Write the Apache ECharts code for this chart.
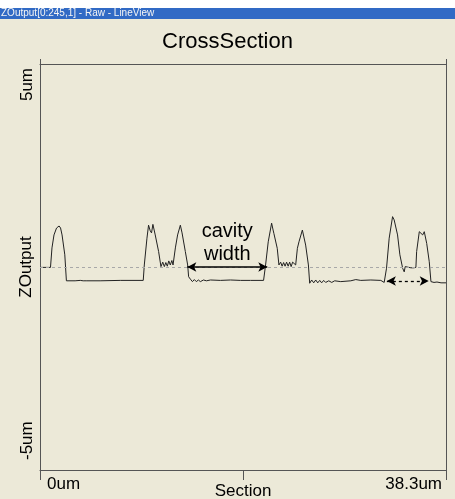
<!DOCTYPE html>
<html>
<head>
<meta charset="utf-8">
<script src="https://cdn.jsdelivr.net/npm/echarts@6/dist/echarts.min.js"></script>
<style>
  html, body { margin: 0; padding: 0; background: #ffffff; }
  #chart { width: 455px; height: 499px; }
</style>
</head>
<body>
<div id="chart"></div>
<script>
// Cross-section profile: position along the section (um) and height ZOutput (um)
const sectionUm = [
  0, 0.99, 1.13, 1.32, 1.56, 1.80, 1.94, 2.08, 2.34, 2.49,
  2.65, 3.31, 3.80, 3.92, 4.07, 4.21, 4.35, 5.67, 7.57, 9.74,
  9.84, 10.09, 10.24, 10.40, 10.52, 10.65, 10.87, 11.19, 11.41, 11.58,
  11.73, 11.87, 12.01, 12.15, 12.29, 12.44, 12.55, 12.77, 12.98, 13.24,
  13.40, 13.71, 13.93, 14.02, 14.19, 14.38, 14.56, 14.75, 14.94, 15.13,
  15.42, 15.70, 16.08, 17.02, 17.97, 18.91, 19.86, 21.09, 21.28, 21.53,
  21.85, 21.99, 22.06, 22.16, 22.38, 22.54, 22.70, 22.84, 22.98, 23.12,
  23.26, 23.41, 23.55, 23.69, 23.83, 24.12, 24.28, 24.43, 24.75, 24.90,
  25.06, 25.32, 25.44, 25.63, 25.82, 26.01, 26.20, 26.39, 26.57, 26.76,
  26.95, 27.24, 27.52, 27.80, 28.37, 29.32, 29.79, 30.26, 31.21, 32.15,
  32.47, 32.69, 32.94, 33.26, 33.41, 33.73, 33.95, 34.21, 34.36, 34.45,
  34.61, 34.80, 34.99, 35.27, 35.46, 35.53, 35.78, 35.94, 36.10, 36.25,
  36.48, 36.72, 36.88, 37.17, 37.45, 37.83, 38.30
];
const zOutputUm = [
  -0.01, -0.01, 0.47, 0.79, 0.96, 1.01, 0.96, 0.79, 0.30, -0.34,
  -0.33, -0.34, -0.33, -0.31, -0.34, -0.30, -0.34, -0.34, -0.33, -0.33,
  0.05, 0.71, 1.03, 0.89, 0.84, 1.05, 0.79, 0.38, 0.01, 0.12,
  0.01, 0.11, 0.02, 0.15, 0.05, 0.16, 0.05, 0.47, 0.79, 1.03,
  0.84, 0.38, 0.05, -0.24, -0.30, -0.36, -0.31, -0.36, -0.32, -0.36,
  -0.32, -0.34, -0.32, -0.33, -0.32, -0.33, -0.33, -0.33, 0.05, 0.62,
  1.08, 0.91, 0.83, 0.79, 0.46, 0.05, 0.12, 0.02, 0.11, 0.02,
  0.12, 0.02, 0.12, 0.01, 0.12, 0.05, 0.46, 0.62, 0.91, 0.87,
  0.54, 0.05, -0.40, -0.32, -0.39, -0.32, -0.39, -0.33, -0.39, -0.33,
  -0.38, -0.34, -0.38, -0.34, -0.36, -0.34, -0.31, -0.33, -0.32, -0.33,
  -0.38, -0.03, 0.71, 1.24, 1.16, 0.79, 0.30, -0.03, -0.12, 0.01,
  -0.02, -0.01, -0.02, -0.02, -0.01, 0.38, 0.87, 0.91, 0.79, 0.87,
  0.58, 0.13, -0.36, -0.38, -0.37, -0.39, -0.39
];

// Axis extents and tick labels
const sectionRange = [0, 38.3];
const zRange = [-5, 5];
const sectionTickLabels = { 0: '{lo|0um}', 38.3: '{hi|38.3um}' };
const zTickLabels = { '-5': '{lo|-5um}', '5': '{hi|5um}' };

// Cavity-width annotations: [startUm, endUm, heightUm]
const cavityArrow = [13.90, 21.44, 0];
const cavityArrowRight = [32.72, 36.67, -0.345];

const FONT = "'Liberation Sans', Arial, sans-serif";
const FRAME = '#555555';

const chart = echarts.init(document.getElementById('chart'), null, { renderer: 'canvas' });

const profile = sectionUm.map((x, i) => [x, zOutputUm[i]]);

const frameLine = { show: true, onZero: false, lineStyle: { color: FRAME, width: 1 } };
const labelText = { fontSize: 17, color: '#000', fontFamily: FONT };

chart.setOption({
  animation: false,
  backgroundColor: '#ECE9D8',
  textStyle: { fontFamily: FONT },
  title: {
    text: 'CrossSection',
    left: 'center',
    top: 26,
    textStyle: { fontFamily: FONT, fontSize: 22, fontWeight: 'normal', color: '#000' }
  },
  graphic: [
    { type: 'rect', left: 0, top: 0, shape: { width: 455, height: 8 }, style: { fill: '#ffffff' }, silent: true },
    { type: 'rect', left: 0, top: 8, shape: { width: 455, height: 11 }, style: { fill: '#316AC5' }, silent: true },
    { type: 'text', left: 1, top: 8.5, style: { text: 'ZOutput[0:245,1] - Raw - LineView', fill: '#f4f4f4', font: "10px " + FONT }, silent: true }
  ],
  grid: { left: 40, right: 9, top: 64, bottom: 29, containLabel: false, outerBoundsMode: 'none' },
  xAxis: [
    {
      type: 'value', position: 'bottom',
      min: sectionRange[0], max: sectionRange[1], interval: sectionRange[1] / 2,
      axisLine: frameLine,
      axisTick: { show: true, length: 10, lineStyle: { color: FRAME } },
      splitLine: { show: false },
      axisLabel: {
        show: true, showMinLabel: true, showMaxLabel: true,
        margin: 6, fontSize: 17, color: '#000', fontFamily: FONT,
        alignMinLabel: 'left', alignMaxLabel: 'right',
        formatter: v => sectionTickLabels[Math.round(v * 10) / 10] || '',
        rich: {
          lo: Object.assign({ padding: [0, 0, 0, 7] }, labelText),
          hi: Object.assign({ padding: [0, 4, 0, 0] }, labelText)
        }
      },
      name: 'Section', nameLocation: 'middle', nameGap: 13, nameMoveOverlap: false,
      nameTextStyle: { fontSize: 17, color: '#000', fontFamily: FONT }
    },
    {
      type: 'value', position: 'top',
      min: sectionRange[0], max: sectionRange[1], interval: sectionRange[1],
      axisLine: frameLine,
      axisTick: { show: true, length: 5, lineStyle: { color: FRAME } },
      axisLabel: { show: false }, splitLine: { show: false }
    }
  ],
  yAxis: [
    {
      type: 'value', position: 'left',
      min: zRange[0], max: zRange[1], interval: 5,
      axisLine: frameLine,
      axisTick: { show: false },
      splitLine: { show: false },
      axisLabel: {
        show: true, rotate: 90, margin: 4, fontSize: 17, color: '#000', fontFamily: FONT,
        showMinLabel: true, showMaxLabel: true,
        alignMinLabel: 'left', alignMaxLabel: 'right',
        formatter: v => zTickLabels[String(v)] || '',
        rich: {
          hi: Object.assign({ padding: [0, 4, 0, 0] }, labelText),
          lo: Object.assign({ padding: [0, 0, 0, 10] }, labelText)
        }
      },
      name: 'ZOutput', nameLocation: 'middle', nameRotate: 90, nameGap: 5, nameMoveOverlap: false,
      nameTextStyle: { fontSize: 17, color: '#000', fontFamily: FONT }
    },
    {
      type: 'value', position: 'right',
      min: zRange[0], max: zRange[1], interval: 5,
      axisLine: frameLine,
      axisTick: { show: false }, axisLabel: { show: false }, splitLine: { show: false }
    }
  ],
  series: [
    {
      type: 'line',
      data: profile,
      showSymbol: false,
      lineStyle: { color: '#222222', width: 1 },
      silent: true,
      markLine: {
        silent: true,
        animation: false,
        symbol: ['none', 'none'],
        label: { show: false },
        lineStyle: { color: '#A8A8A8', type: [3, 3], width: 1 },
        data: [{ yAxis: 0 }]
      }
    },
    {
      type: 'line',
      data: [],
      silent: true,
      markLine: {
        silent: true,
        animation: false,
        symbol: ['arrow', 'arrow'],
        symbolSize: [7, 9],
        data: [
          [
            {
              coord: [cavityArrow[0], cavityArrow[2]],
              lineStyle: { color: '#000', width: 1.5, type: 'solid' },
              label: {
                show: true, position: 'middle', formatter: 'cavity\nwidth',
                fontSize: 20, lineHeight: 23, color: '#000', fontFamily: FONT, distance: 1
              }
            },
            { coord: [cavityArrow[1], cavityArrow[2]] }
          ],
          [
            {
              coord: [cavityArrowRight[0], cavityArrowRight[2]],
              lineStyle: { color: '#000', width: 1.3, type: [3, 3] },
              label: { show: false }
            },
            { coord: [cavityArrowRight[1], cavityArrowRight[2]] }
          ]
        ]
      }
    }
  ]
});
</script>
</body>
</html>
